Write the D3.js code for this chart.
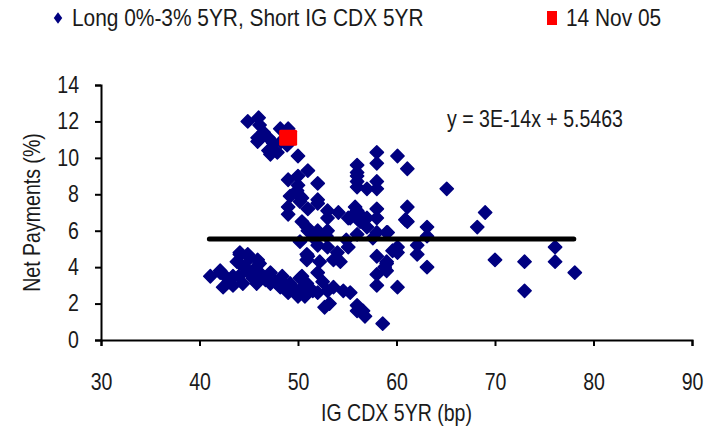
<!DOCTYPE html>
<html>
<head>
<meta charset="utf-8">
<script src="https://cdn.jsdelivr.net/npm/d3@7"></script>
<style>
  body { margin: 0; background: #fff; }
  text { font-family: "Liberation Sans", Arial, sans-serif; fill: #1a1a1a; }
</style>
</head>
<body>
<div id="chart"></div>
<script>
// IG CDX 5YR spread (bp) and net payments (%)
let cdxSpread = [
  44.9,46.0,46.1,45.9,45.9,47.0,47.0,48.2,49.0,47.9,47.2,48.9,50.0,46.5,47.5,48.3,
  51.0,49.0,50.0,52.0,50.0,49.9,49.2,50.2,52.0,49.0,50.2,51.0,49.0,53.0,54.1,53.0,55.1,56.0,
  56.0,56.0,56.0,56.0,56.0,57.0,58.0,58.0,58.0,60.1,61.1,65.1,61.1,61.1,63.1,69.0,68.2,
  52.0,55.8,56.1,55.3,56.3,57.0,58.0,58.0,57.0,58.0,59.1,60.9,51.0,52.0,53.0,50.4,50.4,58.0,
  52.0,53.0,54.0,55.1,51.0,52.2,53.6,54.3,58.0,59.0,59.6,58.8,50.2,50.9,50.9,59.0,60.1,62.1,
  62.1,63.1,63.1,59.0,59.0,60.1,52.9,56.0,57.6,54.9,51.6,
  70.0,73.0,76.1,76.1,78.1,73.0,60.1,58.6,
  41.1,42.1,42.4,43.4,44.1,44.1,45.1,44.9,46.1,46.1,47.2,47.2,48.4,48.2,49.0,50.2,50.0,50.9,
  50.9,43.4,44.4,45.8,49.2,44.1,44.9,45.9,43.8,42.1,43.0,45.4,46.7,47.7,48.8,49.6,44.6,45.6,
  42.8,44.0,
  52.0,50.4,50.4,51.5,52.5,53.6,54.6,55.3,53.2,52.7,56.0,56.6,56.8,56.0,58.0,58.0,50.7,53.0,
  52.0,51.0
];
let netPayments = [
  12.0,12.2,11.8,11.1,10.9,11.1,10.4,11.6,11.6,10.3,10.2,10.7,10.1,11.4,10.8,10.9,
  9.3,8.8,9.0,8.6,8.5,8.2,7.9,7.9,7.7,7.3,7.6,7.2,6.9,7.1,7.0,6.7,6.7,7.1,
  9.6,9.2,9.0,8.7,8.4,8.3,10.3,9.7,8.7,10.1,9.4,8.3,7.3,6.5,6.2,7.0,6.2,
  7.5,7.3,7.0,6.7,6.5,6.7,7.2,6.7,6.2,5.9,5.9,6.6,6.0,6.0,6.0,7.8,6.5,8.3,
  5.2,5.1,4.8,5.1,4.6,4.3,4.4,4.3,4.6,4.3,4.9,4.0,5.4,6.2,4.7,5.9,5.1,5.2,
  4.7,4.0,5.7,4.2,3.8,4.8,5.7,5.8,5.6,5.5,5.6,
  4.4,4.3,5.1,4.3,3.7,2.7,2.9,0.9,
  3.5,3.7,2.9,3.0,4.7,4.2,4.5,3.8,4.2,3.7,3.7,3.1,3.5,2.9,2.6,3.4,2.4,3.1,
  4.4,3.5,3.1,3.1,3.1,4.8,4.7,4.4,4.3,3.8,3.2,3.4,3.3,3.2,3.0,2.8,4.0,3.9,
  3.4,3.5,
  3.7,3.5,2.9,2.7,3.2,2.9,2.7,2.6,2.0,1.8,1.9,1.6,1.3,1.6,3.6,3.0,2.4,2.7,
  2.6,2.6
];
// the 14 Nov 05 point
let latestSpread = [49.0];
let latestPayment = [11.1];
// linear fit y = 3E-14x + 5.5463 over the data range
let fitSlope = 3e-14;
let fitIntercept = 5.5463;
let fitRange = [41, 78];
let xTicks = [30, 40, 50, 60, 70, 80, 90];
let yTicks = [0, 2, 4, 6, 8, 10, 12, 14];
let seriesNames = ["Long 0%-3% 5YR, Short IG CDX 5YR", "14 Nov 05"];

let svgWidth = 709, svgHeight = 430;
let margin = {top: 85, right: 17, bottom: 90, left: 101};
let narrow = "scale(0.85,1)";   // condensed look of the original font

let svg = d3.select("#chart").append("svg")
  .attr("width", svgWidth)
  .attr("height", svgHeight);

let xScale = d3.scaleLinear()
  .domain([30, 90])
  .range([margin.left, svgWidth - margin.right]);
let yScale = d3.scaleLinear()
  .domain([0, 14])
  .range([svgHeight - margin.bottom, margin.top]);

// axes
let xAxis = d3.axisBottom(xScale).tickValues(xTicks).tickSize(6).tickPadding(28);
let yAxis = d3.axisLeft(yScale).tickValues(yTicks).tickSize(6);

let gx = svg.append("g")
  .attr("transform", "translate(0," + yScale(0) + ")")
  .call(xAxis);
let gy = svg.append("g")
  .attr("transform", "translate(" + xScale(30) + ",0)")
  .call(yAxis);
[gx, gy].forEach(function(g){
  g.select(".domain").attr("stroke", "#000").attr("stroke-width", 2);
  g.selectAll(".tick line").attr("stroke", "#000").attr("stroke-width", 2);
  g.selectAll(".tick text")
    .style("font-family", "'Liberation Sans', Arial, sans-serif")
    .style("font-size", "23px").attr("fill", "#1a1a1a");
});
gx.selectAll(".tick text").attr("transform", narrow);
gy.selectAll(".tick text")
  .attr("x", null)
  .attr("transform", "translate(-22,0) " + narrow);

svg.append("text")
  .attr("transform", "translate(" + (xScale(30) + xScale(90)) / 2 + ",421) " + narrow)
  .attr("text-anchor", "middle")
  .style("font-size", "23px")
  .text("IG CDX 5YR (bp)");
svg.append("text")
  .attr("transform", "translate(40," + yScale(7) + ") rotate(-90) " + narrow)
  .attr("text-anchor", "middle")
  .style("font-size", "23px")
  .text("Net Payments (%)");

// scatter
let diamond = d3.symbol().type(d3.symbolSquare).size(88);
let points = cdxSpread.map(function(x, i){ return {x: x, y: netPayments[i]}; });
svg.append("g").selectAll("path")
  .data(points)
  .enter().append("path")
  .attr("d", diamond)
  .attr("transform", function(d){ return "translate(" + xScale(d.x) + "," + yScale(d.y) + ") rotate(45)"; })
  .attr("fill", "#000080")
  .attr("stroke", "#000080")
  .attr("stroke-width", 1.5)
  .attr("stroke-linejoin", "round");

// fit line
svg.append("line")
  .attr("x1", xScale(fitRange[0]))
  .attr("x2", xScale(fitRange[1]))
  .attr("y1", yScale(fitSlope * fitRange[0] + fitIntercept))
  .attr("y2", yScale(fitSlope * fitRange[1] + fitIntercept))
  .attr("stroke", "#000")
  .attr("stroke-width", 5)
  .attr("stroke-linecap", "round");

// latest point
svg.append("g").selectAll("rect")
  .data(latestSpread)
  .enter().append("rect")
  .attr("x", function(d){ return xScale(d) - 9; })
  .attr("y", function(d, i){ return yScale(latestPayment[i]) - 8; })
  .attr("width", 18)
  .attr("height", 16)
  .attr("rx", 1.5)
  .attr("fill", "#ff0000");

svg.append("text")
  .attr("transform", "translate(447,127) " + narrow)
  .style("font-size", "23px")
  .text("y = 3E-14x + 5.5463");

// legend
let legend = svg.append("g");
legend.append("path")
  .attr("d", d3.symbol().type(d3.symbolSquare).size(50))
  .attr("transform", "translate(58,18) scale(0.85,1.15) rotate(45)")
  .attr("fill", "#000080");
legend.append("text")
  .attr("transform", "translate(72,26) scale(0.87,1)")
  .style("font-size", "24px")
  .text(seriesNames[0]);
legend.append("rect")
  .attr("x", 547)
  .attr("y", 11)
  .attr("width", 10)
  .attr("height", 14)
  .attr("fill", "#ff0000");
legend.append("text")
  .attr("transform", "translate(566,26) scale(0.87,1)")
  .style("font-size", "24px")
  .text(seriesNames[1]);
</script>
</body>
</html>
